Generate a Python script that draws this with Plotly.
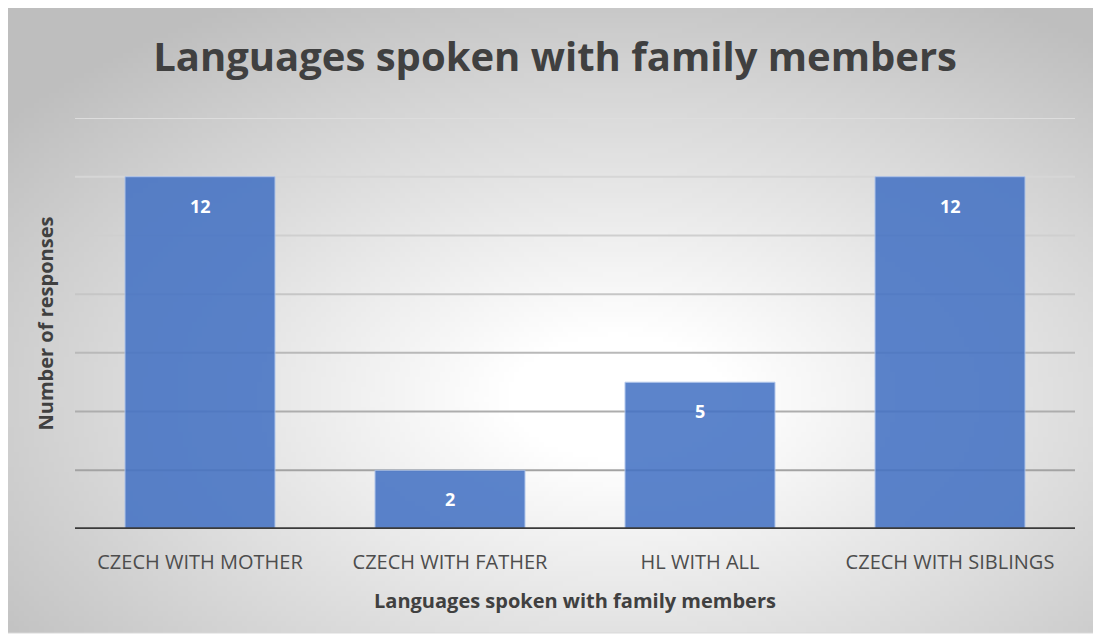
import base64
import struct
import zlib

import plotly.graph_objects as go

# 데이터
categories = ["CZECH WITH MOTHER", "CZECH WITH FATHER", "HL WITH ALL", "CZECH WITH SIBLINGS"]
responses = [12, 2, 5, 12]
grid_values = [2, 4, 6, 8, 10, 12, 14]

FONT_FAMILY = "Open Sans, Noto Sans, sans-serif"
BAR_COLOR = "#4472C4"
GRID_COLORS = ["#a3a3a3", "#adadad", "#b9b9b9", "#c6c6c6", "#cfcfcf", "#d6d6d6", "#dddddd"]

# 페이지 body 여백(8px) 만큼 보정한 크기
W, H = 1093, 633
M = dict(l=67, r=26, t=110, b=112)
PW, PH = W - M["l"] - M["r"], H - M["t"] - M["b"]


def px_to_paper(x, y):
    return (x - M["l"]) / PW, 1 - (y - M["t"]) / PH


# 배경 그라데이션 (방사형) PNG 만들기
def gradient_png(w=220, h=126):
    rows = b""
    for j in range(h):
        row = b"\x00"
        for i in range(w):
            dx = i / w - 0.56
            dy = j / h - 0.62
            d = (dx * dx + dy * dy) ** 0.5
            t = min(max((d - 0.10) / 0.62, 0), 1)
            v = int(round(255 - t * (255 - 190)))
            row += bytes([v, v, v])
        rows += row

    def chunk(tag, data):
        c = struct.pack(">I", len(data)) + tag + data
        return c + struct.pack(">I", zlib.crc32(tag + data) & 0xFFFFFFFF)

    png = b"\x89PNG\r\n\x1a\n"
    png += chunk(b"IHDR", struct.pack(">IIBBBBB", w, h, 8, 2, 0, 0, 0))
    png += chunk(b"IDAT", zlib.compress(rows, 9))
    png += chunk(b"IEND", b"")
    return "data:image/png;base64," + base64.b64encode(png).decode()


fig = go.Figure()

fig.add_trace(
    go.Bar(
        x=categories,
        y=responses,
        marker=dict(color=BAR_COLOR, opacity=0.87, line=dict(color="#a9c1ea", width=1)),
        hoverinfo="x+y",
    )
)

# 값 라벨
for c, v in zip(categories, responses):
    fig.add_annotation(
        x=c, y=v, text=str(v), showarrow=False, yshift=-29,
        font=dict(family=FONT_FAMILY, size=18, color="white", weight="bold"),
    )

# 그리드라인
for g, col in zip(grid_values, GRID_COLORS):
    fig.add_shape(
        type="line", xref="paper", x0=0, x1=1, yref="y", y0=g, y1=g,
        line=dict(color=col, width=2), layer="below",
    )

# 기준선
fig.add_shape(
    type="line", xref="paper", x0=0, x1=1, yref="y", y0=0, y1=0,
    line=dict(color="#3a3a3a", width=3.5), layer="above",
)

# 배경 박스
x0, y0 = px_to_paper(-1, -2)
x1, y1 = px_to_paper(1087, 625)
fig.add_layout_image(
    source=gradient_png(), xref="paper", yref="paper",
    x=x0, y=y0, sizex=x1 - x0, sizey=y0 - y1,
    xanchor="left", yanchor="top", sizing="stretch", layer="below",
)
fig.add_shape(
    type="rect", xref="paper", yref="paper", x0=x0, x1=x1, y0=y1, y1=y0,
    line=dict(color="#d9d9d9", width=1), layer="below",
)

fig.update_layout(
    width=W,
    height=H,
    margin=M,
    paper_bgcolor="white",
    plot_bgcolor="rgba(0,0,0,0)",
    bargap=0.4,
    showlegend=False,
    font=dict(family=FONT_FAMILY, color="#595959"),
    title=dict(
        text="Languages spoken with family members",
        x=0.5005, xanchor="center", y=0.923, yanchor="middle",
        font=dict(family=FONT_FAMILY, size=40, color="#404040", weight="bold"),
    ),
    xaxis=dict(
        showgrid=False, showline=False, ticks="", ticklabelstandoff=19,
        tickfont=dict(size=20, color="#4d4d4d"),
        title=dict(
            text="Languages spoken with family members", standoff=19,
            font=dict(size=20, color="#404040", weight="bold"),
        ),
    ),
    yaxis=dict(
        range=[0, 14], showgrid=False, zeroline=False, showticklabels=False, ticks="",
        title=dict(
            text="Number of responses", standoff=15,
            font=dict(size=20, color="#404040", weight="bold"),
        ),
    ),
)

fig.write_html("out.html")
